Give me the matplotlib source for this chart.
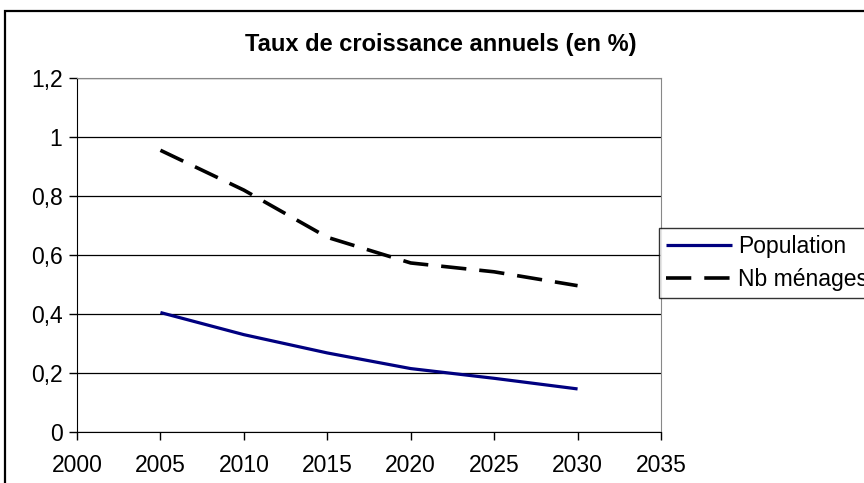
import matplotlib.pyplot as plt
from matplotlib.patches import Rectangle
from matplotlib.ticker import FuncFormatter

years = [2005, 2010, 2015, 2020, 2025, 2030]
population = [0.405, 0.33, 0.268, 0.215, 0.182, 0.146]
menages = [0.955, 0.82, 0.66, 0.573, 0.543, 0.496]

x_ticks = [2000, 2005, 2010, 2015, 2020, 2025, 2030, 2035]
y_ticks = [0, 0.2, 0.4, 0.6, 0.8, 1.0, 1.2]

plt.rcParams["font.family"] = ["Liberation Sans", "DejaVu Sans"]

fig = plt.figure(figsize=(8.64, 4.83), dpi=100)
ax = fig.add_axes([77 / 864, 1 - 432 / 483, (661 - 77) / 864, (432 - 78) / 483])

ax.plot(years, population, color="#000080", lw=2.3, solid_capstyle="butt", label="Population")
ax.plot(years, menages, color="black", lw=2.6, dashes=(7, 3.6), label="Nb ménages")

ax.set_xlim(2000, 2035)
ax.set_ylim(0, 1.2)
ax.set_xticks(x_ticks)
ax.set_yticks(y_ticks)
ax.yaxis.set_major_formatter(FuncFormatter(lambda v, _: f"{v:g}".replace(".", ",")))
ax.tick_params(labelsize=16.5, length=5.5, width=1, direction="out", color="black")
ax.tick_params(axis="x", pad=10)
ax.tick_params(axis="y", pad=5)
ax.grid(axis="y", color="black", lw=0.9)
ax.set_axisbelow(True)
for side in ["top", "right"]:
    ax.spines[side].set_color("#888888")
ax.spines["left"].set_color("black")
ax.spines["bottom"].set_color("black")

fig.text(441 / 864, 1 - 44 / 483, "Taux de croissance annuels (en %)", ha="center", va="center",
         fontsize=17, fontweight="bold")

leg = fig.legend(loc="upper left", bbox_to_anchor=(659 / 864, 1 - 228 / 483), fontsize=16.5,
                 frameon=True, fancybox=False, edgecolor="black", handlelength=2.9,
                 borderaxespad=0, borderpad=0.3, handletextpad=0.25, labelspacing=0.45)
leg.get_frame().set_linewidth(1)

fig.patches.append(Rectangle((5 / 864, -0.1), 1.2, 1 - 11 / 483 + 0.1, transform=fig.transFigure,
                             fill=False, edgecolor="black", lw=1.6))

fig.savefig("out.png", dpi=100)
